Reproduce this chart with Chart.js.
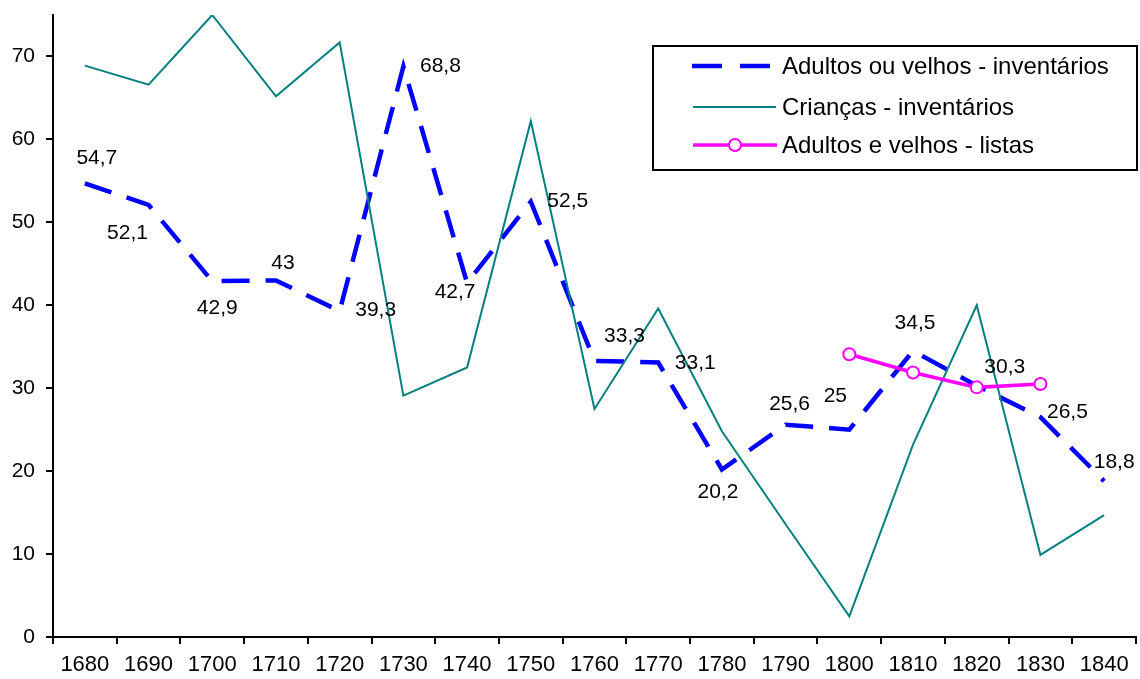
<!DOCTYPE html>
<html>
<head>
<meta charset="utf-8">
<script src="https://cdn.jsdelivr.net/npm/chart.js@4/dist/chart.umd.min.js"></script>
<style>
  html, body { margin: 0; padding: 0; background: #fff; overflow: hidden; }
  #wrap { width: 1144px; height: 679px; }
</style>
</head>
<body>
<div id="wrap"><canvas id="chart" width="1144" height="679"></canvas></div>
<script>
const decades = ['1680', '1690', '1700', '1710', '1720', '1730', '1740', '1750', '1760',
                 '1770', '1780', '1790', '1800', '1810', '1820', '1830', '1840'];
const adultosInventarios = [54.7, 52.1, 42.9, 43, 39.3, 68.8, 42.7, 52.5, 33.3,
                            33.1, 20.2, 25.6, 25, 34.5, 30.3, 26.5, 18.8];
const criancasInventarios = [68.9, 66.6, 75.0, 65.2, 71.7, 29.1, 32.5, 62.2, 27.5,
                             39.6, 24.8, 13.6, 2.5, 23.2, 40.0, 9.9, 14.7];
const adultosListas = [null, null, null, null, null, null, null, null, null,
                       null, null, null, 34.1, 31.9, 30.1, 30.5, null];
const seriesNames = ['Adultos ou velhos - inventários', 'Crianças - inventários', 'Adultos e velhos - listas'];

// where each value label sits relative to its point (label centre, px)
const labelShift = [[12, -25], [-21, 28], [5, 27], [7, -17], [36, -1], [37, 0], [-12, 9], [37, 0], [30, -25],
                    [37, 1], [-4, 23], [4, -20], [-14, -33], [2, -28], [28, -19], [27, -5], [10, -19]];

const FONT = '"Liberation Sans", Arial, sans-serif';

const valueLabels = {
  id: 'valueLabels',
  afterDatasetsDraw(chart) {
    const ctx = chart.ctx;
    const meta = chart.getDatasetMeta(0);
    ctx.save();
    ctx.font = '21px ' + FONT;
    ctx.fillStyle = '#000';
    ctx.textAlign = 'center';
    ctx.textBaseline = 'middle';
    meta.data.forEach((pt, i) => {
      const v = adultosInventarios[i];
      const s = labelShift[i];
      ctx.fillText(String(v).replace('.', ','), pt.x + s[0], pt.y + s[1]);
    });
    ctx.restore();
  }
};

const boxLegend = {
  id: 'boxLegend',
  afterDraw(chart) {
    const ctx = chart.ctx;
    ctx.save();
    ctx.fillStyle = '#fff';
    ctx.fillRect(653, 46, 484, 124);
    ctx.strokeStyle = '#000';
    ctx.lineWidth = 2;
    ctx.strokeRect(653, 46, 484, 124);

    const rows = [66, 107, 145];
    // dashed blue
    ctx.strokeStyle = '#0000ff';
    ctx.lineWidth = 4.5;
    ctx.setLineDash([30, 18]);
    ctx.beginPath(); ctx.moveTo(692, rows[0]); ctx.lineTo(770, rows[0]); ctx.stroke();
    ctx.setLineDash([]);
    // teal
    ctx.strokeStyle = '#008080';
    ctx.lineWidth = 2;
    ctx.beginPath(); ctx.moveTo(693, rows[1]); ctx.lineTo(776, rows[1]); ctx.stroke();
    // magenta with marker
    ctx.strokeStyle = '#ff00ff';
    ctx.lineWidth = 3.5;
    ctx.beginPath(); ctx.moveTo(693, rows[2]); ctx.lineTo(777, rows[2]); ctx.stroke();
    ctx.fillStyle = '#fff';
    ctx.lineWidth = 2;
    ctx.beginPath(); ctx.arc(735, rows[2], 6, 0, Math.PI * 2); ctx.fill(); ctx.stroke();

    ctx.fillStyle = '#000';
    ctx.font = '24px ' + FONT;
    ctx.textBaseline = 'middle';
    seriesNames.forEach((n, i) => ctx.fillText(n, 782, rows[i] + 1));
    ctx.restore();
  }
};

new Chart(document.getElementById('chart'), {
  type: 'line',
  data: {
    labels: decades,
    datasets: [{
      label: seriesNames[0],
      data: adultosInventarios,
      borderColor: '#0000ff',
      borderWidth: 4.5,
      borderDash: [28, 16],
      pointRadius: 0,
      tension: 0,
      order: 3
    }, {
      label: seriesNames[1],
      data: criancasInventarios,
      borderColor: '#008080',
      borderWidth: 2,
      pointRadius: 0,
      tension: 0,
      order: 2
    }, {
      label: seriesNames[2],
      data: adultosListas,
      borderColor: '#ff00ff',
      borderWidth: 3.5,
      pointRadius: 6,
      pointBorderWidth: 2,
      pointBackgroundColor: '#fff',
      pointBorderColor: '#ff00ff',
      tension: 0,
      spanGaps: false,
      order: 1
    }]
  },
  options: {
    responsive: false,
    animation: false,
    layout: { padding: { top: 15, right: 0, left: 0, bottom: 0 } },
    plugins: {
      legend: { display: false },
      tooltip: { enabled: false }
    },
    scales: {
      x: {
        offset: true,
        grid: { offset: true, drawOnChartArea: false, color: '#000', lineWidth: 2, tickLength: 7 },
        border: { display: true, color: '#000', width: 2 },
        ticks: { color: '#000', font: { family: FONT, size: 22 }, padding: 8, maxRotation: 0, autoSkip: false },
        afterFit(scale) {
          scale.height = 42;
          scale.paddingLeft = 0;
          scale.paddingRight = 0;
        }
      },
      y: {
        min: 0,
        max: 75,
        grid: { drawOnChartArea: false, color: '#000', lineWidth: 2, tickLength: 7 },
        border: { display: true, color: '#000', width: 2 },
        ticks: { stepSize: 10, color: '#000', font: { family: FONT, size: 21 }, padding: 11 },
        afterBuildTicks(scale) { scale.ticks = scale.ticks.filter(t => t.value % 10 === 0); },
        afterFit(scale) {
          scale.width = 53;
          scale.paddingTop = 0;
          scale.paddingBottom = 0;
        }
      }
    }
  },
  plugins: [valueLabels, boxLegend]
});
</script>
</body>
</html>
